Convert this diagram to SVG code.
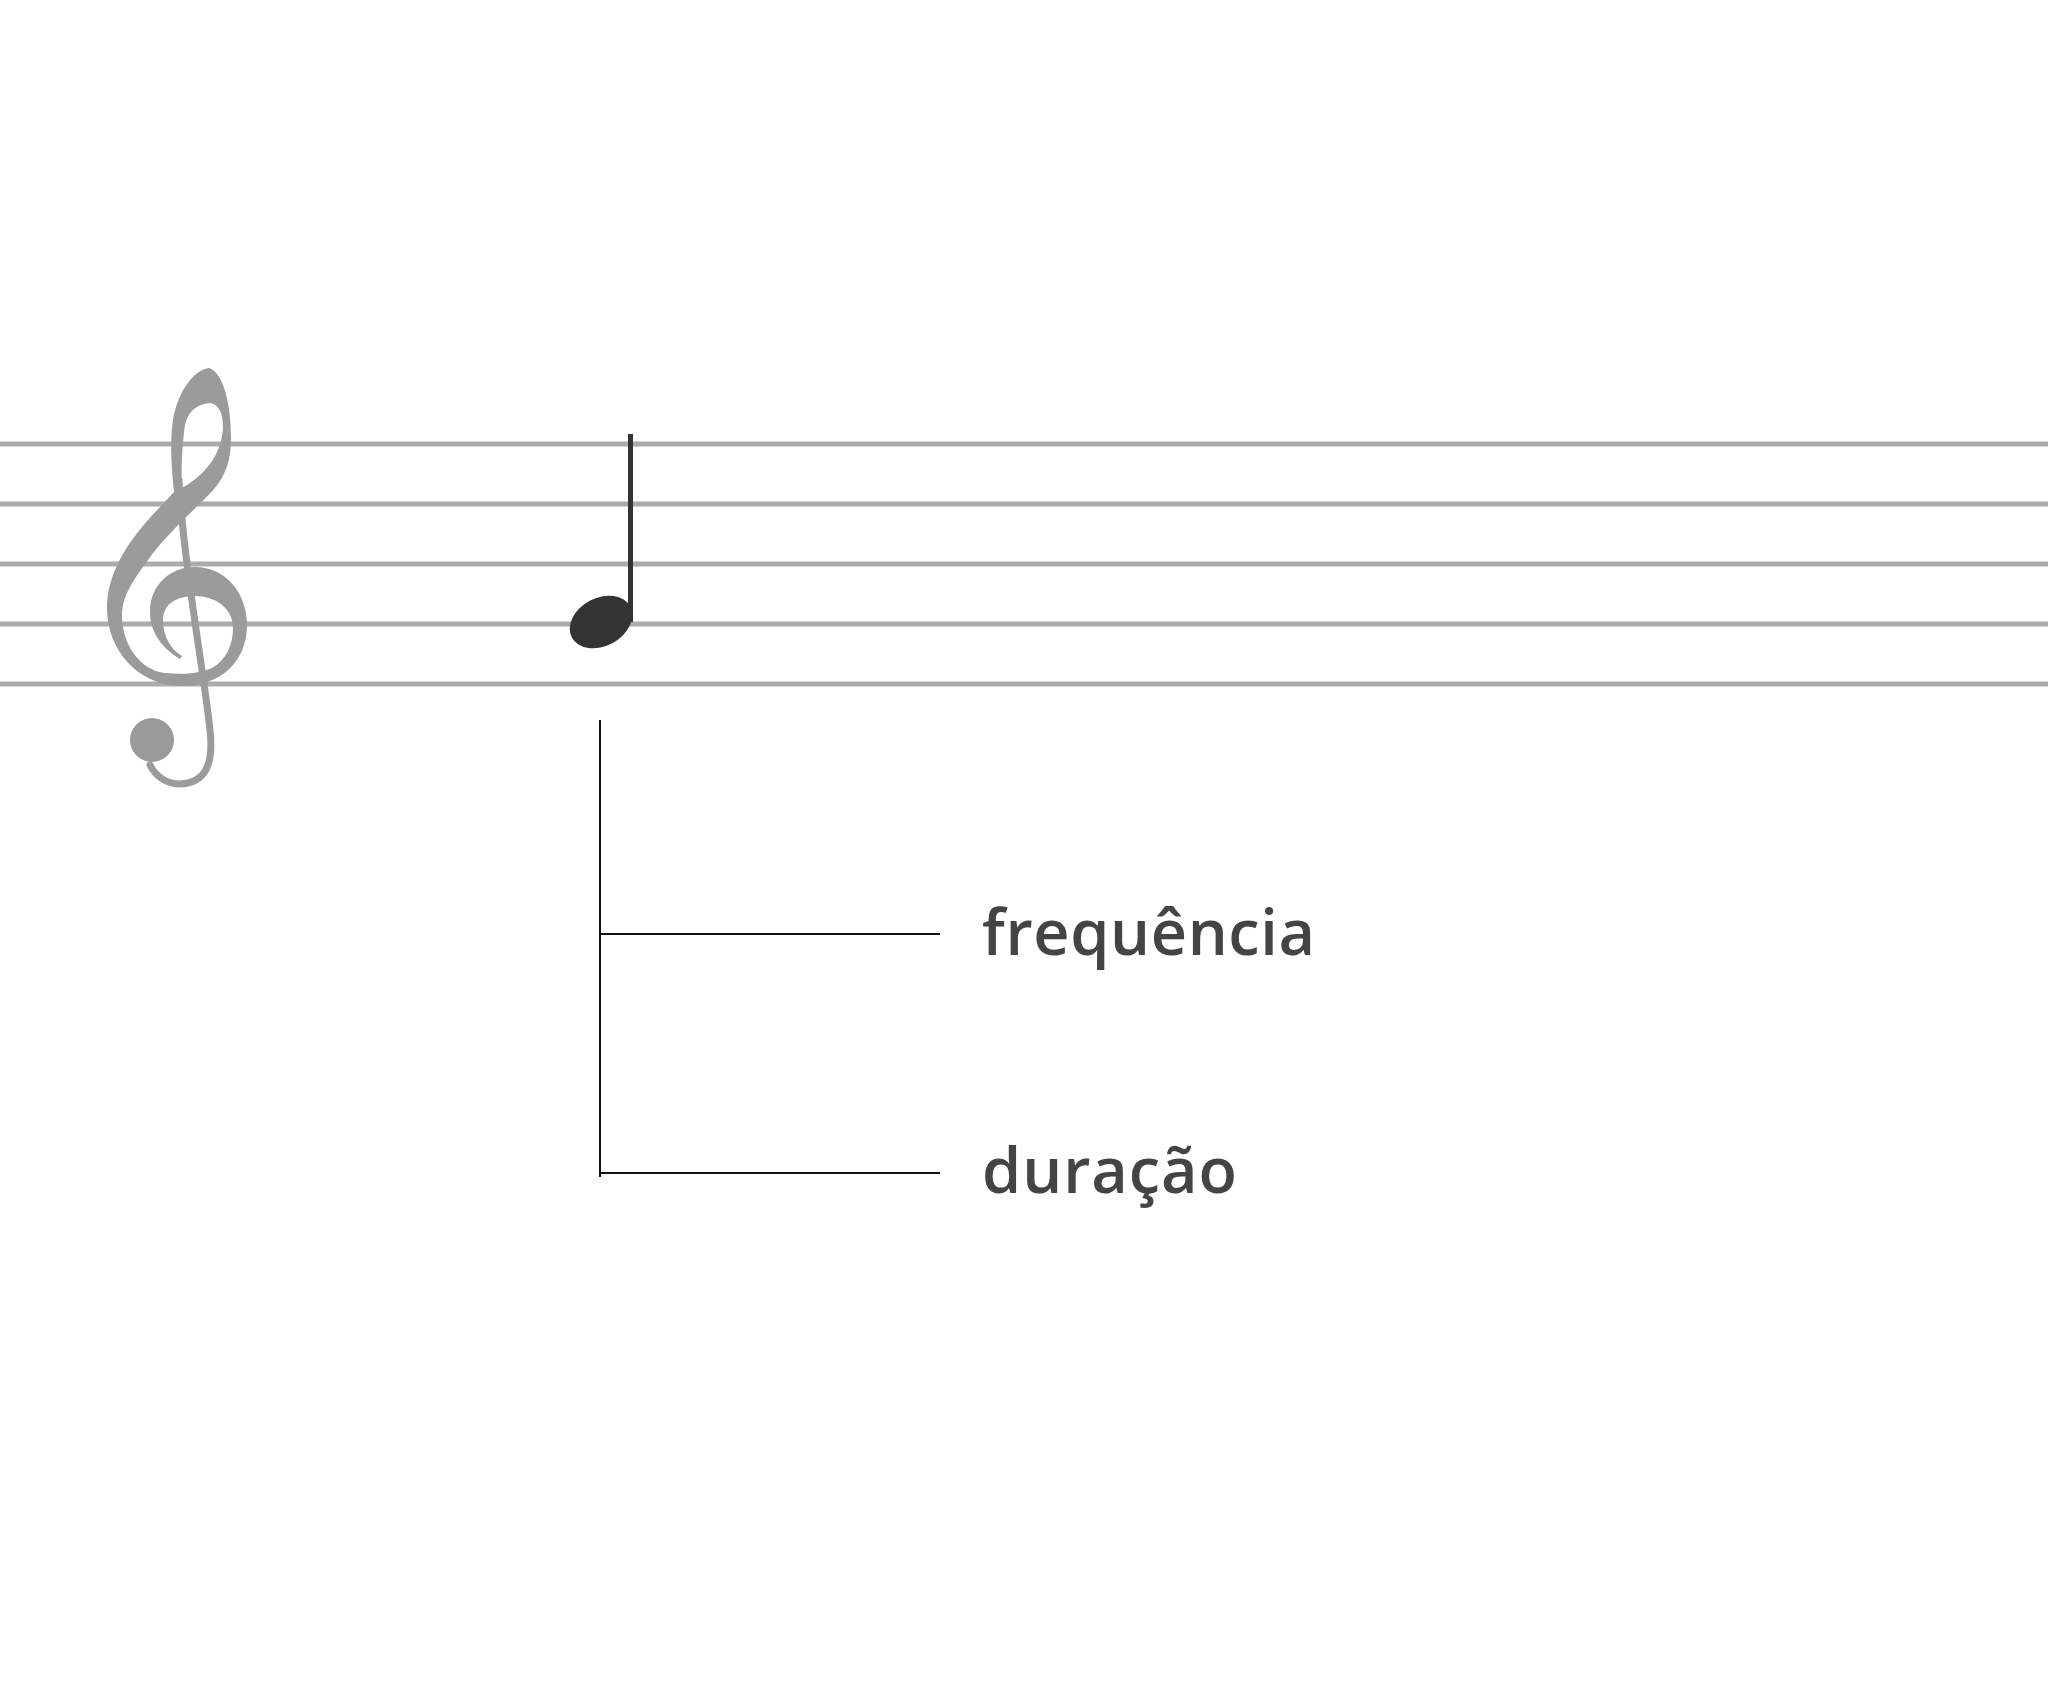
<svg xmlns="http://www.w3.org/2000/svg" width="2048" height="1692" viewBox="0 0 2048 1692">
<style>
.staff{stroke:#ababab;stroke-width:5;fill:none}
.clef{fill:#9b9b9b}
.clefline{stroke:#9b9b9b;fill:none;stroke-linecap:round}
.conn{stroke:#111;stroke-width:2;fill:none}
.label{font-family:"Open Sans",Lato,sans-serif;font-weight:600;font-size:63px;fill:#444}
</style>
<rect width="2048" height="1692" fill="#fff"/>
<g id="staff">
<line class="staff" x1="0" y1="444" x2="2048" y2="444"/>
<line class="staff" x1="0" y1="504" x2="2048" y2="504"/>
<line class="staff" x1="0" y1="564" x2="2048" y2="564"/>
<line class="staff" x1="0" y1="624" x2="2048" y2="624"/>
<line class="staff" x1="0" y1="684" x2="2048" y2="684"/>
</g>
<g id="clef">
<path class="clefline" stroke-width="7" d="M179,480 C183,560 205,680 210,730 C214,765 205,783 180,784 C165,784 155,775 150,765"/>
<circle class="clef" cx="152" cy="740" r="22"/>
<path class="clef" fill-rule="evenodd" d="M180,659 C165,650 150,635 150,612 C150,585 170,567 195,567 C225,567 247,592 247,625 C247,662 220,686 182,686 C140,686 107,652 107,608 C107,580 120,548 160,507 L174,492 C171,465 170,440 173,420 C177,395 192,370 209,368 C222,372 231,400 231,438 C231,460 226,475 214,489 C200,505 165,535 148,560 C135,578 122,595 122,615 C122,645 140,670 165,673 C185,675 200,673 212,668 C226,660 233,645 233,628 C233,608 215,596 195,596 C175,596 163,605 163,620 C163,638 172,650 182,656 Z M210,403 C218,404 223,412 223,427 C222,450 210,472 182,488 C181,470 182,445 185,425 C188,412 196,404 210,403 Z"/>
</g>
<g id="note">
<ellipse cx="601" cy="622" rx="33" ry="24" transform="rotate(-28 601 622)" fill="#333"/>
<rect x="628" y="434" width="5" height="188" fill="#333"/>
</g>
<g id="connectors">
<line class="conn" x1="600" y1="720" x2="600" y2="1177"/>
<line class="conn" x1="600" y1="934" x2="940" y2="934"/>
<line class="conn" x1="600" y1="1173" x2="940" y2="1173"/>
</g>
<g id="label-frequencia">
<text class="label" x="982" y="955" textLength="333" lengthAdjust="spacing">frequência</text>
</g>
<g id="label-duracao">
<text class="label" x="982" y="1193" textLength="255" lengthAdjust="spacing">duração</text>
</g>
</svg>
